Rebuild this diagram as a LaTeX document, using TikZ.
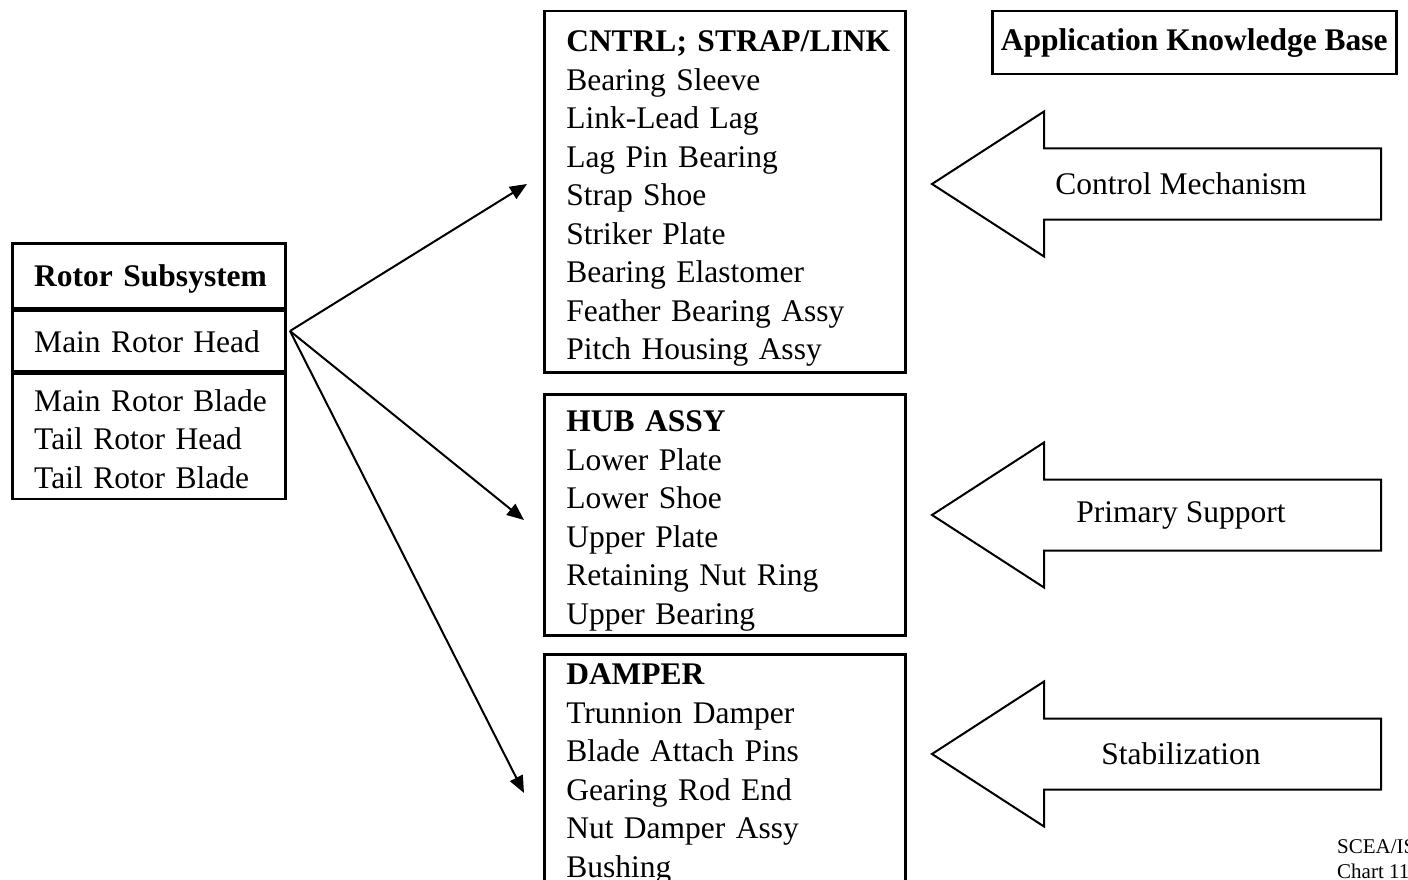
\documentclass[tikz,border=0pt]{standalone}
\usepackage{fontspec}
\setmainfont{Liberation Serif}
\usetikzlibrary{calc, arrows.meta, math}

\begin{document}
\begin{tikzpicture}[x=1pt, y=-1pt, >={Triangle[length=17pt, width=14pt]},
	every node/.style={font=\fontsize{31.5}{38.5}\selectfont},
	frame/.style={draw, line width=2.5pt, inner ysep=0pt, inner xsep=22pt, anchor=north west, align=left},
	listbox/.style={frame, text width=317pt},
	rotorbox/.style={frame, text width=229pt}]

\tikzmath{
			\xl = 543; \xa = 932; \xh = 1044; \xr = 1381;
			\hh = 72.5; \sh = 35.5;
          }

\useasboundingbox (0,0) rectangle (1408,880);

\node[rotorbox, text height=43.5pt, text depth=21pt, font=\fontsize{31.5}{38.5}\selectfont\bfseries] (rotor) at (11,242) {\mbox{Rotor Subsystem}};
\node[rotorbox, text height=42.5pt, text depth=18.5pt] (head) at (rotor.south west) {Main Rotor Head};
\node[rotorbox, text height=37.5pt, text depth=87.5pt] (others) at (head.south west) {\mbox{Main Rotor Blade}\\Tail Rotor Head\\Tail Rotor Blade};

\node[listbox, text height=40.5pt, text depth=320.5pt] (cntrl) at (\xl,10) {\textbf{\mbox{CNTRL; STRAP/LINK}}\\Bearing Sleeve\\Link-Lead Lag\\Lag Pin Bearing\\Strap Shoe\\Striker Plate\\Bearing Elastomer\\Feather Bearing Assy\\Pitch Housing Assy};
\node[listbox, text height=37.5pt, text depth=203.5pt] (hub) at (\xl,393) {\textbf{HUB ASSY}\\Lower Plate\\Lower Shoe\\Upper Plate\\Retaining Nut Ring\\Upper Bearing};
\node[listbox, text height=30.5pt, text depth=216.5pt] (damper) at (\xl,653) {\textbf{DAMPER}\\Trunnion Damper\\Blade Attach Pins\\Gearing Rod End\\Nut Damper Assy\\Bushing};

\node[frame, inner sep=0pt, align=center, minimum width=404pt, minimum height=63pt, font=\fontsize{31.5}{38.5}\selectfont\bfseries] (akb) at (991,10) {Application Knowledge Base};

\coordinate (src) at (290,331);
\coordinate (toc) at (527,184);
\coordinate (toh) at (524,520);
\coordinate (tod) at (524,793);

\foreach \t in {toc,toh,tod}
	\draw[->, line width=2pt] (src) -- (\t);

\foreach \yc/\lbl [count=\i] in {184/Control Mechanism, 515/Primary Support, 754/Stabilization}{
	\draw[line width=2pt, line join=miter] (\xa,\yc) -- (\xh,\yc-\hh) -- (\xh,\yc-\sh) -- (\xr,\yc-\sh) -- (\xr,\yc+\sh) -- (\xh,\yc+\sh) -- (\xh,\yc+\hh) -- cycle;
	\node (force\i) at (1181,\yc) {\lbl};
}

\node[inner sep=0pt, anchor=base west, font=\fontsize{21}{25}\selectfont] (scea) at (1337,853) {SCEA/IS};
\node[inner sep=0pt, anchor=base west, font=\fontsize{21}{25}\selectfont] (chart) at (1337,878) {Chart 11};

\end{tikzpicture}
\end{document}
